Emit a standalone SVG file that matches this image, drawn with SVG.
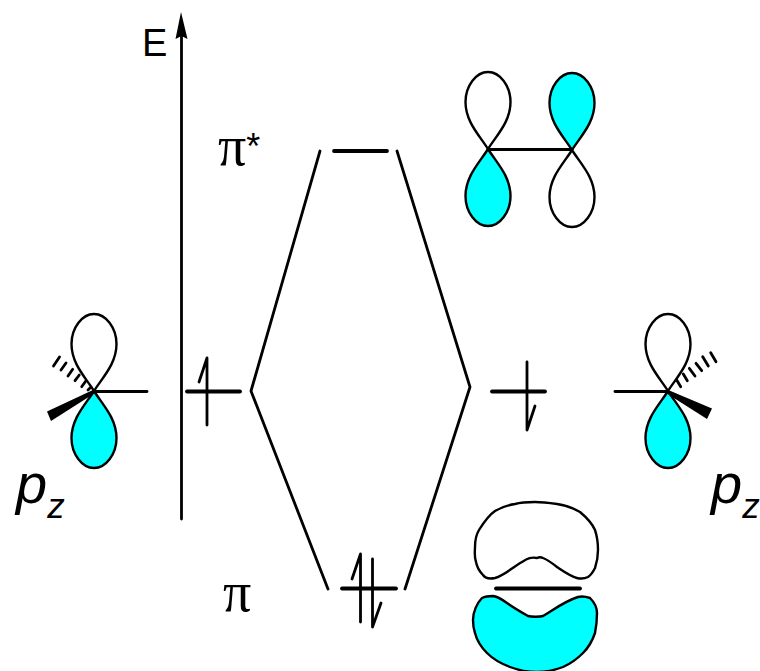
<svg xmlns="http://www.w3.org/2000/svg" width="760" height="671" viewBox="0 0 760 671">
<style>
.l{fill:none;stroke:#000;stroke-linecap:round;stroke-linejoin:round}
.t{stroke-width:2.8}
.m{stroke-width:2.8}
.b{stroke-width:3.8}
.o{stroke:#000;stroke-width:2.4;stroke-linejoin:round}
.c{fill:#00ffff}
.w{fill:#fff}
.h{fill:none;stroke:#000;stroke-width:2.8;stroke-linecap:round}
.sans{font-family:"Liberation Sans",Arial,sans-serif;fill:#000}
.ser{font-family:"Liberation Serif","Times New Roman",serif;fill:#000}
.p{font-size:56px;font-style:italic}
.s{font-size:35px}
</style>
<defs>
<path id="lobe" d="M0,0C8,13 22.500,27 22.500,47C22.500,63 12,77 0,77C-12,77 -22.500,63 -22.500,47C-22.500,27 -8,13 0,0Z"/>
</defs>
<g id="connectors">
<path class="l m" d="M320,151L251,391L328,589"/>
<path class="l m" d="M397,151L470,387L405,589"/>
</g>
<g id="axis">
<path class="l m" d="M181.500,519V36"/>
<path d="M181,12L187.500,39L181.500,36L175.500,39Z" fill="#000"/>
<text class="sans" x="142" y="56" font-size="38">E</text>
</g>
<g id="pz-left">
<use href="#lobe" class="o w" transform="translate(94,391) scale(1,-1)"/>
<use href="#lobe" class="o c" transform="translate(94,391)"/>
<path class="l t" d="M94,391.500H147"/>
<path d="M94,389.500L47,411.500L51,421L95,393Z" fill="#000"/>
<path class="h" d="M53.500,366L59.500,357M61,370L66,363M68,376L72.700,369.300M75,380.700L79.300,375M81.700,386.700L86,380.700M88,390L91,387"/>
<text class="sans p" x="16" y="503">p<tspan class="s" dy="15">z</tspan></text>
</g>
<g id="level-left">
<path class="l b" d="M187,391.500H240"/>
<path class="l m" d="M207,425V358L199,382"/>
</g>
<g id="level-pi-star">
<path class="l b" d="M334,151H387"/>
<text class="ser" x="218" y="165" font-size="56">π<tspan class="sans" font-size="36" dy="-6">*</tspan></text>
</g>
<g id="orbital-pi-star">
<use href="#lobe" class="o w" transform="translate(488,149) scale(1,-1)"/>
<use href="#lobe" class="o c" transform="translate(488,149)"/>
<use href="#lobe" class="o c" transform="translate(572,150) scale(1,-1)"/>
<use href="#lobe" class="o w" transform="translate(572,150)"/>
<path class="l m" d="M488,149.500H572"/>
</g>
<g id="level-right">
<path class="l b" d="M492,391.500H545"/>
<path class="l m" d="M527,362V430L535,406"/>
</g>
<g id="pz-right">
<use href="#lobe" class="o w" transform="translate(668,391) scale(1,-1)"/>
<use href="#lobe" class="o c" transform="translate(668,391)"/>
<path class="l t" d="M615,391.500H668"/>
<path d="M667,389.500L712,408.500L707,419L666,393Z" fill="#000"/>
<path class="h" d="M710.700,352.700L716,361.700M702.700,356.700L708.300,366M696,363.300L701.700,370.700M689.300,368.300L695,376M683.300,374L687.300,380.700M676.700,380L680.700,386.700"/>
<text class="sans p" x="711" y="503">p<tspan class="s" dy="15">z</tspan></text>
</g>
<g id="level-pi">
<path class="l b" d="M342,588.500H396"/>
<path class="l m" d="M360.500,622V554L352,579"/>
<path class="l m" d="M372.500,559V627L381,603"/>
<text class="ser" x="223" y="611" font-size="56">π</text>
</g>
<g id="orbital-pi">
<path class="o w" d="M537,558C531,557 528,558 522,562C513,567 505,575 495,578C490,579 485,578 483,575C479,571 477,567 476,562C474,556 475,552 475,547C475,540 476,535 479,530C484,522 489,515 495,511C502,507 508,505 515,504C522,502 528,502 535,502C543,502 550,503 557,504C565,505 573,508 580,512C586,517 592,523 595,530C597,536 598,543 598,550C598,557 597,562 595,568C593,572 591,575 588,577C584,579 581,579 577,578C570,576 563,571 557,567C552,563 548,560 543,558C541,557 539,557 537,558Z"/>
<path class="o c" d="M528,616C531,617 540,617 543,616C553,610 565,601 578,597C582,596 587,597 590,598C595,603 597,608 597,613C597,620 596,628 595,633C592,642 588,648 583,653C577,659 570,664 563,667C555,670 546,672 537,672C528,672 518,670 510,667C502,664 493,659 487,653C482,648 477,641 475,633C473,627 473,625 473,620C473,612 477,603 482,598C486,596 490,596 493,596C499,597 503,600 507,603C514,608 521,612 528,616Z"/>
<path class="l b" d="M496,588.500H580"/>
</g>
</svg>
